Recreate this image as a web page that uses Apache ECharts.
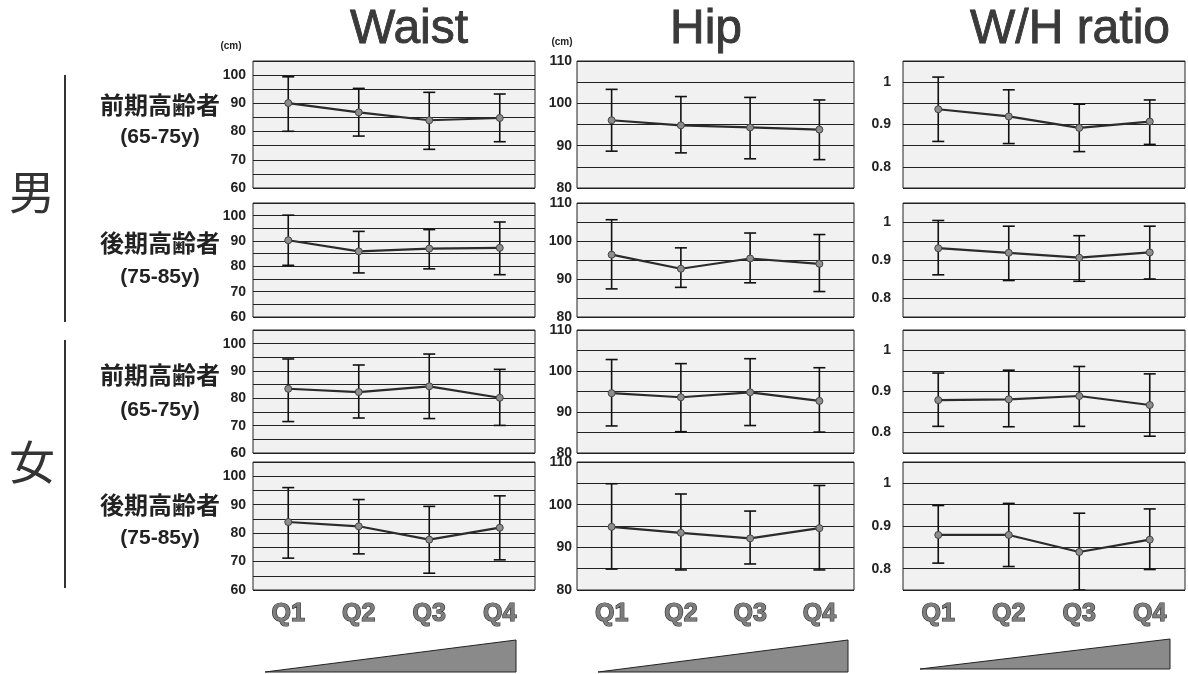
<!DOCTYPE html>
<html>
<head>
<meta charset="utf-8">
<script src="https://cdn.jsdelivr.net/npm/echarts@6/dist/echarts.min.js"></script>
<style>
  html, body { margin: 0; padding: 0; background: #fff; }
  #main { width: 1188px; height: 674px; }
</style>
</head>
<body>
<div id="main"></div>
<script>
// 分位
var quarters = ['Q1', 'Q2', 'Q3', 'Q4'];
var panelTitles = ['Waist', 'Hip', 'W/H ratio'];
var groupNames = ['前期高齢者', '後期高齢者', '前期高齢者', '後期高齢者'];
var groupAges = ['(65-75y)', '(75-85y)', '(65-75y)', '(75-85y)'];
var sexNames = ['男', '女'];

// rows: 男前期, 男後期, 女前期, 女後期
var waistMean = [
	[90.1, 86.8, 84.0, 84.8],
	[90.3, 85.9, 87.0, 87.3],
	[83.5, 82.3, 84.4, 80.2],
	[83.9, 82.4, 77.7, 81.9]
];
var waistLow = [
	[80.1, 78.4, 73.7, 76.4],
	[80.4, 77.4, 79.0, 76.7],
	[71.5, 72.8, 72.6, 70.1],
	[71.2, 72.7, 65.9, 70.6]
];
var waistHigh = [
	[99.4, 95.3, 93.9, 93.3],
	[100.2, 93.8, 94.5, 97.5],
	[94.4, 92.2, 96.2, 90.6],
	[96.0, 91.8, 89.4, 93.1]
];
var hipMean = [
	[96.0, 94.8, 94.3, 93.8],
	[96.4, 92.7, 95.4, 94.0],
	[94.6, 93.6, 94.8, 92.7],
	[94.8, 93.4, 92.1, 94.5]
];
var hipLow = [
	[88.7, 88.3, 86.9, 86.7],
	[87.4, 87.8, 89.0, 86.7],
	[86.6, 85.2, 86.7, 85.1],
	[84.9, 84.7, 86.1, 84.7]
];
var hipHigh = [
	[103.3, 101.6, 101.4, 100.8],
	[105.6, 98.2, 102.1, 101.7],
	[102.8, 101.8, 103.0, 100.8],
	[104.9, 102.5, 98.5, 104.5]
];
var whMean = [
	[0.936, 0.919, 0.892, 0.907],
	[0.931, 0.919, 0.906, 0.920],
	[0.879, 0.881, 0.889, 0.867],
	[0.879, 0.879, 0.839, 0.868]
];
var whLow = [
	[0.860, 0.855, 0.836, 0.853],
	[0.861, 0.846, 0.844, 0.850],
	[0.815, 0.814, 0.815, 0.791],
	[0.813, 0.805, 0.750, 0.798]
];
var whHigh = [
	[1.012, 0.982, 0.948, 0.958],
	[1.004, 0.989, 0.964, 0.989],
	[0.945, 0.952, 0.961, 0.943],
	[0.948, 0.953, 0.930, 0.940]
];

var meanSets = [waistMean, hipMean, whMean];
var lowSets = [waistLow, hipLow, whLow];
var highSets = [waistHigh, hipHigh, whHigh];

// 布局
var colBox = [[253, 535], [577, 854], [903, 1185]];
var rowBox = [[61, 188], [203, 317], [330, 453], [462, 590]];
var yCfg = [
	{ min: 60, max: 105, interval: 5, margin: 7, show: function (v) { return v % 10 === 0 && v <= 100; } },
	{ min: 80, max: 110, interval: 5, margin: 5, show: function (v) { return v % 10 === 0; } },
	{ min: 0.75, max: 1.05, interval: 0.05, margin: 12, show: function (v) { var k = Math.round(v * 100); return k % 10 === 0 && k <= 100; } }
];

var myChart = echarts.init(document.getElementById('main'));
var grids = [], xAxes = [], yAxes = [], series = [];

function errorBar(params, api) {
	var x = api.value(0);
	var lo = api.coord([x, api.value(1)]);
	var hi = api.coord([x, api.value(2)]);
	var w = 6;
	var st = { stroke: '#111', lineWidth: 1.6 };
	return {
		type: 'group',
		children: [
			{ type: 'line', shape: { x1: lo[0], y1: lo[1], x2: hi[0], y2: hi[1] }, style: st },
			{ type: 'line', shape: { x1: lo[0] - w, y1: lo[1], x2: lo[0] + w, y2: lo[1] }, style: st },
			{ type: 'line', shape: { x1: hi[0] - w, y1: hi[1], x2: hi[0] + w, y2: hi[1] }, style: st }
		]
	};
}

var idx = 0;
for (var r = 0; r < 4; r++) {
	for (var c = 0; c < 3; c++) {
		var cfg = yCfg[c];
		grids.push({
			left: colBox[c][0], width: colBox[c][1] - colBox[c][0],
			top: rowBox[r][0], height: rowBox[r][1] - rowBox[r][0],
			show: true, backgroundColor: '#f1f1f1', borderColor: '#222', borderWidth: 1
		});
		xAxes.push({
			type: 'category', gridIndex: idx, data: quarters, boundaryGap: true,
			axisLine: { show: false }, axisTick: { show: false },
			axisLabel: {
				show: r === 3, margin: 12, fontSize: 25, fontWeight: 'bold',
				fontFamily: 'Liberation Sans, Arial', color: '#7d7d7d',
				textBorderColor: '#333', textBorderWidth: 1.2
			}
		});
		yAxes.push({
			type: 'value', gridIndex: idx, min: cfg.min, max: cfg.max, interval: cfg.interval,
			axisLine: { show: false }, axisTick: { show: false },
			splitLine: { show: true, lineStyle: { color: '#222', width: 1 } },
			axisLabel: {
				margin: cfg.margin, fontSize: 14, fontWeight: 'bold', color: '#222',
				fontFamily: 'Liberation Sans, Arial',
				formatter: (function (f) {
					return function (v) { return f(v) ? String(Math.round(v * 100) / 100) : ''; };
				})(cfg.show)
			}
		});
		var errData = [];
		for (var q = 0; q < 4; q++) {
			errData.push([q, lowSets[c][r][q], highSets[c][r][q]]);
		}
		series.push({
			type: 'custom', xAxisIndex: idx, yAxisIndex: idx, clip: true,
			renderItem: errorBar, data: errData, z: 2
		});
		series.push({
			type: 'line', xAxisIndex: idx, yAxisIndex: idx, data: meanSets[c][r],
			symbol: 'circle', symbolSize: 7,
			lineStyle: { color: '#2b2b2b', width: 2.2 },
			itemStyle: { color: '#8d8d8d', borderColor: '#444', borderWidth: 1 },
			z: 3
		});
		idx++;
	}
}

// 文字与装饰
var graphics = [];
var titleX = [409, 706, 1070];
panelTitles.forEach(function (t, i) {
	graphics.push({
		type: 'text', x: titleX[i], y: 30,
		style: { text: t, fontSize: 48, fontFamily: 'Liberation Sans, Arial', fill: '#3a3a3a', stroke: '#222', lineWidth: 0.8, align: 'center', verticalAlign: 'middle' }
	});
});
graphics.push({ type: 'text', x: 231, y: 46, style: { text: '(cm)', fontSize: 10, fontWeight: 'bold', fill: '#222', align: 'center', verticalAlign: 'middle' } });
graphics.push({ type: 'text', x: 562, y: 42, style: { text: '(cm)', fontSize: 10, fontWeight: 'bold', fill: '#222', align: 'center', verticalAlign: 'middle' } });

var groupY = [[105, 137], [243, 277], [375, 410], [505, 538]];
for (var g = 0; g < 4; g++) {
	graphics.push({
		type: 'text', x: 160, y: groupY[g][0],
		style: { text: groupNames[g], fontSize: 24, fontWeight: 'bold', fontFamily: 'Noto Sans CJK JP', fill: '#222', align: 'center', verticalAlign: 'middle' }
	});
	graphics.push({
		type: 'text', x: 160, y: groupY[g][1],
		style: { text: groupAges[g], fontSize: 21, fontWeight: 'bold', fontFamily: 'Liberation Sans, Arial', fill: '#222', align: 'center', verticalAlign: 'middle' }
	});
}
var sexY = [192, 462];
sexNames.forEach(function (s, i) {
	graphics.push({
		type: 'text', x: 32, y: sexY[i],
		style: { text: s, fontSize: 46, fontFamily: 'Noto Sans CJK JP', fill: '#333', align: 'center', verticalAlign: 'middle' }
	});
});
graphics.push({ type: 'line', shape: { x1: 65, y1: 75, x2: 65, y2: 322 }, style: { stroke: '#333', lineWidth: 2 } });
graphics.push({ type: 'line', shape: { x1: 65, y1: 340, x2: 65, y2: 588 }, style: { stroke: '#333', lineWidth: 2 } });

var wedges = [[265, 516, 640, 672], [598, 848, 640, 672], [920, 1170, 639, 669]];
wedges.forEach(function (w) {
	graphics.push({
		type: 'polygon',
		shape: { points: [[w[0], w[3]], [w[1], w[2]], [w[1], w[3]]] },
		style: { fill: '#8a8a8a', stroke: '#222', lineWidth: 1 }
	});
});

var option = {
	backgroundColor: '#fff',
	animation: false,
	grid: grids,
	xAxis: xAxes,
	yAxis: yAxes,
	series: series,
	graphic: graphics
};
myChart.setOption(option, true);
</script>
</body>
</html>
